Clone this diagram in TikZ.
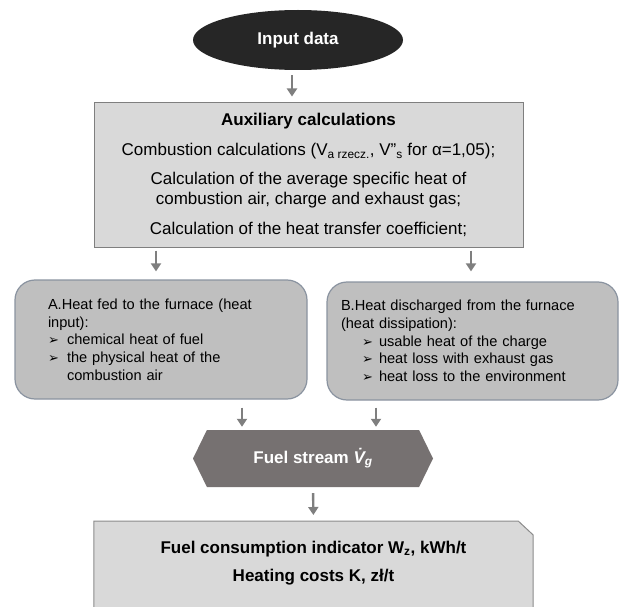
\documentclass[tikz,border=0pt]{standalone}
\usepackage{fontspec}
\setmainfont{Liberation Sans}
\newfontfamily\dingfont{DejaVu Sans}
\usetikzlibrary{shapes.geometric,shapes.symbols,arrows.meta,calc,backgrounds}
\definecolor{arrgray}{HTML}{7F7F7F}
\definecolor{lightbox}{HTML}{D9D9D9}
\definecolor{midbox}{HTML}{BFBFBF}
\definecolor{bluegray}{HTML}{8A93A0}
\definecolor{darkhex}{HTML}{767171}
\newcommand{\bul}[1][19pt]{\makebox[#1][l]{\dingfont\fontsize{13}{13}\selectfont ➢}}

\begin{document}
\begin{tikzpicture}[x=1pt, y=-1pt,
  arr/.style={draw=arrgray, line width=2.4pt, -{Triangle[width=10pt,length=8pt]}},
  bigtext/.style={font=\fontsize{17}{20}\selectfont},
  heatbox/.style={draw=bluegray, line width=1.2pt, fill=midbox, rounded corners=20pt,
    align=left, font=\fontsize{14.6}{17.7}\selectfont}]
\useasboundingbox (0,0) rectangle (619,607);

\node[ellipse, fill=black!85, minimum width=210, minimum height=60, text=white,
  font=\bfseries\fontsize{17}{20}\selectfont] (input) at (298,40) {Input data};

\node[draw=arrgray, line width=1pt, fill=lightbox, minimum width=429, minimum height=144,
  align=center, bigtext] (aux) at (308.5,175) {{\bfseries Auxiliary calculations}\\[10pt]
  Combustion calculations (V\textsubscript{a rzecz.}, V"\textsubscript{s} for α=1,05);\\[9pt]
  Calculation of the average specific heat of\\
  combustion air, charge and exhaust gas;\\[10pt]
  Calculation of the heat transfer coefficient;};

\node[heatbox, minimum width=292, minimum height=119, inner xsep=33, text width=226]
  (heatin) at (161,339.5) {A.Heat fed to the furnace (heat\\
  input):\\
  \bul chemical heat of fuel\\
  \bul the physical heat of the\\
  \hspace*{19pt}combustion air};

\node[heatbox, minimum width=291, minimum height=118, inner xsep=14, text width=263]
  (heatout) at (472.5,341) {B.Heat discharged from the furnace\\
  (heat dissipation):\\
  \hspace*{21pt}\bul[17pt]usable heat of the charge\\
  \hspace*{21pt}\bul[17pt]heat loss with exhaust gas\\
  \hspace*{21pt}\bul[17pt]heat loss to the environment};

\node[signal, signal to=east and west, signal pointer angle=128, fill=darkhex,
  minimum width=240, minimum height=57, text=white,
  font=\bfseries\fontsize{17}{20}\selectfont] (fuel) at (313,458.5)
  {Fuel stream {\itshape\.{V}\textsubscript{g}}};

\node[anchor=north, minimum width=439, inner xsep=5, inner ysep=19.6, align=center,
  font=\bfseries\fontsize{17}{20}\selectfont] (result) at (313.5,521)
  {Fuel consumption indicator W\textsubscript{z}, kWh/t\\[8pt]Heating costs K, zł/t};
\begin{scope}[on background layer]
\draw[draw=arrgray!90, line width=1pt, fill=lightbox] (result.north west)
  -- ($(result.north east)+(-15,0)$) -- ($(result.north east)+(0,14)$)
  -- (result.north east |- 0,615) -- (result.north west |- 0,615) -- cycle;
\end{scope}

\draw[arr, shorten <=5pt, shorten >=6pt] ([xshift=-6pt]input.south) -- ([xshift=-6pt]input.south |- aux.north);
\draw[arr, shorten <=3pt, shorten >=8pt] ([xshift=-5pt]heatin.north |- aux.south) -- ([xshift=-5pt]heatin.north);
\draw[arr, shorten <=3pt, shorten >=10pt] ([xshift=-1.5pt]heatout.north |- aux.south) -- ([xshift=-1.5pt]heatout.north);
\draw[arr, shorten <=8pt, shorten >=3pt] ([xshift=-71pt]fuel.north |- heatin.south) -- ([xshift=-71pt]fuel.north);
\draw[arr, shorten <=7pt, shorten >=3pt] ([xshift=63pt]fuel.north |- heatout.south) -- ([xshift=63pt]fuel.north);
\draw[arr, shorten <=6pt, shorten >=6pt] (fuel.south) -- (result.north);
\end{tikzpicture}
\end{document}
